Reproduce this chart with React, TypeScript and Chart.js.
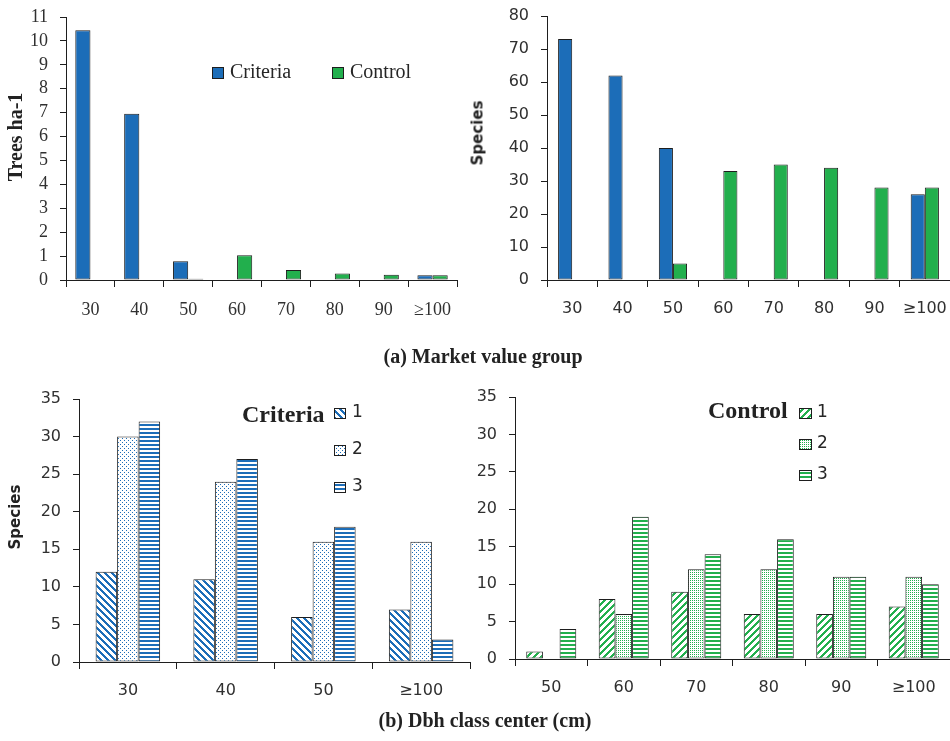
import React, { useEffect, useRef } from 'react';
import { Chart, registerables } from 'chart.js';

Chart.register(...registerables);

// ---------- data ----------
const mvCategories = ['30', '40', '50', '60', '70', '80', '90', '≥100'];
const treesCriteria = [10.45, 6.95, 0.78, 0, 0, 0, 0, 0.2];
const treesControl = [0, 0, 0.05, 1.04, 0.42, 0.27, 0.22, 0.2];
const speciesCriteria = [73, 62, 40, 0, 0, 0, 0, 26];
const speciesControl = [0, 0, 5, 33, 35, 34, 28, 28];

const dbhCriteriaCats = ['30', '40', '50', '≥100'];
const dbhCriteria1 = [12, 11, 6, 7];
const dbhCriteria2 = [30, 24, 16, 16];
const dbhCriteria3 = [32, 27, 18, 3];

const dbhControlCats = ['50', '60', '70', '80', '90', '≥100'];
const dbhControl1 = [1, 8, 9, 6, 6, 7];
const dbhControl2 = [0, 6, 12, 12, 11, 11];
const dbhControl3 = [4, 19, 14, 16, 11, 10];

const groupLabels = ['Criteria', 'Control'];
const classLabels = ['1', '2', '3'];

// ---------- styles ----------
const BLUE = '#1C6DB8';
const GREEN = '#22AF4D';
const EDGE = '#1e1e1e';
const TICK = '#303030';
const SANS = '"DejaVu Sans", "Liberation Sans", sans-serif';
const SERIF = '"Liberation Serif", "DejaVu Serif", serif';

function makePattern(kind: string, color: string): CanvasPattern | string {
  if (kind === 'solid') return color;
  const c = document.createElement('canvas');
  let w = 8;
  let h = 8;
  if (kind === 'hstripe') { w = 4; h = 4; }
  if (kind === 'dots') { w = 4; h = 4; }
  if (kind === 'dense') { w = 2; h = 2; }
  if (kind === 'back' || kind === 'fwd') { w = 7; h = 7; }
  c.width = w;
  c.height = h;
  const g = c.getContext('2d');
  if (!g) return color;
  g.fillStyle = '#ffffff';
  g.fillRect(0, 0, w, h);
  g.fillStyle = color;
  if (kind === 'hstripe') {
    g.fillRect(0, 0, w, 2);
  } else if (kind === 'back') {
    for (let y = 0; y < h; y++) for (let k = 0; k < 3; k++) g.fillRect((y + k) % w, y, 1, 1);
  } else if (kind === 'fwd') {
    for (let y = 0; y < h; y++) for (let k = 0; k < 3; k++) g.fillRect((w - 1 - y + k + w) % w, y, 1, 1);
  } else if (kind === 'dots') {
    g.fillRect(0, 0, 1, 1);
    g.fillRect(2, 2, 1, 1);
  } else if (kind === 'dense') {
    g.fillRect(0, 0, 1, 1);
  }
  const p = g.createPattern(c, 'repeat');
  return p || color;
}

const boxLegend = {
  id: 'boxLegend',
  afterDraw(chart: any, _args: any, opts: any) {
    if (!opts || !opts.items) return;
    const ctx = chart.ctx;
    ctx.save();
    ctx.textBaseline = 'middle';
    ctx.textAlign = 'left';
    if (opts.title) {
      ctx.font = opts.titleFont;
      ctx.fillStyle = '#222';
      ctx.fillText(opts.title, opts.titleX, opts.titleY);
    }
    const bw = opts.boxW;
    const bh = opts.boxH;
    chart.data.datasets.forEach((ds: any, i: number) => {
      const pos = opts.items[i];
      if (!pos) return;
      const top = Math.round(pos.y - bh / 2);
      ctx.fillStyle = ds.backgroundColor;
      ctx.fillRect(pos.x, top, bw, bh);
      ctx.strokeStyle = EDGE;
      ctx.lineWidth = 1;
      ctx.strokeRect(pos.x + 0.5, top + 0.5, bw - 1, bh - 1);
      ctx.font = opts.font;
      ctx.fillStyle = '#262626';
      ctx.fillText(ds.label, pos.x + bw + opts.gap, pos.y + (opts.textDy || 0));
    });
    ctx.restore();
  },
};

const fitY = (w: number) => (scale: any) => {
  scale.width = w;
  scale.paddingTop = 0;
  scale.paddingBottom = 0;
  scale.paddingLeft = 0;
  scale.paddingRight = 0;
};
const fitX = (h: number) => (scale: any) => {
  scale.height = h;
  scale.paddingTop = 0;
  scale.paddingBottom = 0;
  scale.paddingLeft = 0;
  scale.paddingRight = 0;
};

function axisX(font: string, size: number) {
  return {
    type: 'category' as const,
    offset: true,
    afterFit: fitX(40),
    grid: { display: true, drawOnChartArea: false, drawTicks: true, tickLength: 7, color: EDGE, lineWidth: 1, offset: true },
    border: { display: true, color: EDGE, width: 1 },
    ticks: { color: TICK, font: { family: font, size }, padding: 12, maxRotation: 0, autoSkip: false },
  };
}
function axisY(max: number, step: number, font: string, size: number) {
  return {
    type: 'linear' as const,
    min: 0,
    max,
    afterFit: fitY(50),
    grid: { display: true, drawOnChartArea: false, drawTicks: true, tickLength: 6, color: EDGE, lineWidth: 1 },
    border: { display: true, color: EDGE, width: 1 },
    ticks: { stepSize: step, color: TICK, font: { family: font, size }, padding: 12, autoSkip: false, maxTicksLimit: 50 },
  };
}

const bw = (ctx: any) => (ctx.raw === 0 ? 0 : 1);

function baseOptions(pad: any, scales: any, legend: any) {
  return {
    responsive: false,
    animation: false as const,
    devicePixelRatio: 1,
    layout: { padding: pad },
    plugins: { legend: { display: false }, tooltip: { enabled: false }, boxLegend: legend },
    scales,
  };
}

export default function App() {
  const r1 = useRef<HTMLCanvasElement>(null);
  const r2 = useRef<HTMLCanvasElement>(null);
  const r3 = useRef<HTMLCanvasElement>(null);
  const r4 = useRef<HTMLCanvasElement>(null);

  useEffect(() => {
    const charts: Chart[] = [];
    const blueSolid = makePattern('solid', BLUE);
    const greenSolid = makePattern('solid', GREEN);

    // (a) left: Trees ha-1
    charts.push(
      new Chart(r1.current as HTMLCanvasElement, {
        type: 'bar',
        data: {
          labels: mvCategories,
          datasets: [
            { label: groupLabels[0], data: treesCriteria, backgroundColor: blueSolid as any, borderColor: EDGE, borderWidth: bw, borderSkipped: false, categoryPercentage: 0.62, barPercentage: 1 },
            { label: groupLabels[1], data: treesControl, backgroundColor: greenSolid as any, borderColor: EDGE, borderWidth: bw, borderSkipped: false, categoryPercentage: 0.62, barPercentage: 1 },
          ],
        },
        options: baseOptions(
          { left: 16, right: 493, top: 17, bottom: 421 },
          { x: axisX(SERIF, 18), y: axisY(11, 1, SERIF, 18) },
          { items: [{ x: 212, y: 73 }, { x: 332, y: 73 }], boxW: 12, boxH: 12, gap: 6, font: `20px ${SERIF}` }
        ) as any,
        plugins: [boxLegend],
      })
    );

    // (a) right: Species
    charts.push(
      new Chart(r2.current as HTMLCanvasElement, {
        type: 'bar',
        data: {
          labels: mvCategories,
          datasets: [
            { label: groupLabels[0], data: speciesCriteria, backgroundColor: blueSolid as any, borderColor: EDGE, borderWidth: bw, borderSkipped: false, categoryPercentage: 0.56, barPercentage: 1 },
            { label: groupLabels[1], data: speciesControl, backgroundColor: greenSolid as any, borderColor: EDGE, borderWidth: bw, borderSkipped: false, categoryPercentage: 0.56, barPercentage: 1 },
          ],
        },
        options: baseOptions(
          { left: 497, right: 0, top: 16, bottom: 421 },
          { x: axisX(SANS, 16), y: axisY(80, 10, SANS, 16) },
          null
        ) as any,
      })
    );

    // (b) left: Criteria Dbh classes
    charts.push(
      new Chart(r3.current as HTMLCanvasElement, {
        type: 'bar',
        data: {
          labels: dbhCriteriaCats,
          datasets: [
            { label: classLabels[0], data: dbhCriteria1, backgroundColor: makePattern('back', BLUE) as any, borderColor: EDGE, borderWidth: bw, borderSkipped: false, categoryPercentage: 0.66, barPercentage: 1 },
            { label: classLabels[1], data: dbhCriteria2, backgroundColor: makePattern('dots', BLUE) as any, borderColor: EDGE, borderWidth: bw, borderSkipped: false, categoryPercentage: 0.66, barPercentage: 1 },
            { label: classLabels[2], data: dbhCriteria3, backgroundColor: makePattern('hstripe', BLUE) as any, borderColor: EDGE, borderWidth: bw, borderSkipped: false, categoryPercentage: 0.66, barPercentage: 1 },
          ],
        },
        options: baseOptions(
          { left: 29, right: 480, top: 399, bottom: 39 },
          { x: axisX(SANS, 16), y: axisY(35, 5, SANS, 16) },
          {
            title: groupLabels[0], titleFont: `bold 24px ${SERIF}`, titleX: 242, titleY: 416,
            items: [{ x: 334, y: 413 }, { x: 334, y: 450 }, { x: 334, y: 487 }],
            boxW: 12, boxH: 11, gap: 6, font: `17px ${SANS}`,
          }
        ) as any,
        plugins: [boxLegend],
      })
    );

    // (b) right: Control Dbh classes
    charts.push(
      new Chart(r4.current as HTMLCanvasElement, {
        type: 'bar',
        data: {
          labels: dbhControlCats,
          datasets: [
            { label: classLabels[0], data: dbhControl1, backgroundColor: makePattern('fwd', GREEN) as any, borderColor: EDGE, borderWidth: bw, borderSkipped: false, categoryPercentage: 0.69, barPercentage: 1 },
            { label: classLabels[1], data: dbhControl2, backgroundColor: makePattern('dense', GREEN) as any, borderColor: EDGE, borderWidth: bw, borderSkipped: false, categoryPercentage: 0.69, barPercentage: 1 },
            { label: classLabels[2], data: dbhControl3, backgroundColor: makePattern('hstripe', GREEN) as any, borderColor: EDGE, borderWidth: bw, borderSkipped: false, categoryPercentage: 0.69, barPercentage: 1 },
          ],
        },
        options: baseOptions(
          { left: 465, right: -9, top: 397, bottom: 42 },
          { x: axisX(SANS, 16), y: axisY(35, 5, SANS, 16) },
          {
            title: groupLabels[1], titleFont: `bold 24px ${SERIF}`, titleX: 708, titleY: 412,
            items: [{ x: 799, y: 413 }, { x: 799, y: 444 }, { x: 799, y: 475 }],
            boxW: 13, boxH: 11, gap: 5, font: `17px ${SANS}`,
          }
        ) as any,
        plugins: [boxLegend],
      })
    );

    return () => charts.forEach((c) => c.destroy());
  }, []);

  const canvasStyle: React.CSSProperties = { position: 'absolute', left: 0, top: 0, width: 950, height: 741 };
  const vTitle = (text: string, x: number, y: number, font: string): React.ReactNode => (
    <div
      style={{
        position: 'absolute', left: x, top: y, transform: 'translate(-50%, -50%) rotate(-90deg)',
        font, color: '#222', whiteSpace: 'nowrap', lineHeight: 1,
      }}
    >
      {text}
    </div>
  );
  const caption = (text: string, x: number, y: number): React.ReactNode => (
    <div
      style={{
        position: 'absolute', left: x, top: y, transform: 'translate(-50%, -50%)',
        font: `bold 20px ${SERIF}`, color: '#222', whiteSpace: 'nowrap', lineHeight: 1,
      }}
    >
      {text}
    </div>
  );

  return (
    <div style={{ position: 'absolute', left: 0, top: 0, width: 950, height: 741, background: '#fff', overflow: 'hidden' }}>
      <canvas ref={r1} width={950} height={741} style={canvasStyle} />
      <canvas ref={r2} width={950} height={741} style={canvasStyle} />
      <canvas ref={r3} width={950} height={741} style={canvasStyle} />
      <canvas ref={r4} width={950} height={741} style={canvasStyle} />
      {vTitle('Trees ha-1', 15, 137, `bold 20px ${SERIF}`)}
      {vTitle('Species', 478, 133, `bold 15px ${SANS}`)}
      {vTitle('Species', 15, 517, `bold 15px ${SANS}`)}
      {caption('(a) Market value group', 483, 356)}
      {caption('(b) Dbh class center (cm)', 485, 720)}
    </div>
  );
}
